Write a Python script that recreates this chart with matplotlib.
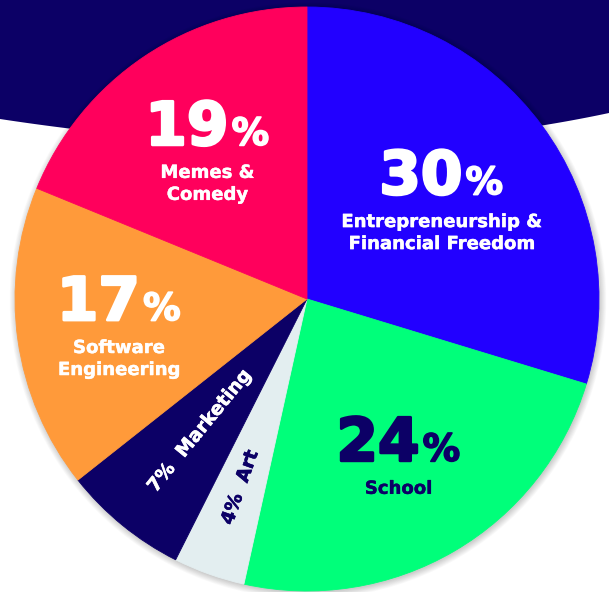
import numpy as np
import matplotlib
matplotlib.use("Agg")
import matplotlib.pyplot as plt
from matplotlib.patches import Polygon, Circle
import matplotlib.patheffects as pe

# Survey shares (percent) for each interest, drawn clockwise from 12 o'clock
categories = ["Entrepreneurship &\nFinancial Freedom", "School", "Art", "Marketing",
              "Software\nEngineering", "Memes &\nComedy"]
shares = [30, 24, 4, 7, 17, 19]

NAVY = "#0c0066"
colors = ["#2200ff", "#00ff7a", "#e3eef0", NAVY, "#ff9a3a", "#ff005c"]
text_colors = ["white", NAVY, NAVY, "white", "white", "white"]
rotated = [False, False, True, True, False, False]   # thin slices get one rotated line
label_dist = [0.572, 0.62, 0.685, 0.582, 0.651, 0.613]

W, H = 609, 592
fig = plt.figure(figsize=(W / 100, H / 100), dpi=100)
fig.patch.set_facecolor("white")
ax = fig.add_axes([0, 0, 1, 1])

CX, CY, R = 307, H - 299, 292

# Navy header band with a curved lower edge
band_x = [0, 65, 545, 609]
band_y = [119, 128, 125, 113]
coef = np.polyfit(band_x, band_y, 3)
xs = np.linspace(0, W, 300)
ys = H - np.polyval(coef, xs)
outline = np.column_stack([np.r_[0, xs, W], np.r_[H, ys, H]])
ax.add_patch(Polygon(outline, closed=True, facecolor=NAVY, edgecolor="none", zorder=0))

# Soft shadow under the pie
for i in range(10):
    ax.add_patch(Circle((CX + 1, CY - 1.5), R + 0.7 * i, facecolor="black",
                        edgecolor="none", alpha=0.02, zorder=1))

wedges, _ = ax.pie(shares, colors=colors, startangle=90, counterclock=False,
                   radius=R, center=(CX, CY),
                   wedgeprops=dict(linewidth=0.6))
for w, c in zip(wedges, colors):
    w.set_edgecolor(c)
    w.set_zorder(2)

ax.set_xlim(0, W)
ax.set_ylim(0, H)
ax.set_aspect("equal")
ax.axis("off")

FONT = "DejaVu Sans"
CAP = 44         # height of the big digits, px
FIRST_GAP = 33   # number baseline to first caption baseline
LINE_GAP = 22    # caption line spacing


def heavy(color, width):
    # thicken the bold face a little with an outline in the same colour
    return [pe.withStroke(linewidth=width, foreground=color)]


fig.canvas.draw()
renderer = fig.canvas.get_renderer()

for w, cat, val, tc, rot, d in zip(wedges, categories, shares, text_colors,
                                   rotated, label_dist):
    mid = np.deg2rad((w.theta1 + w.theta2) / 2)
    bx = CX + d * R * np.cos(mid)
    by = CY + d * R * np.sin(mid)
    if rot:
        ax.text(bx, by, f"{val}%  {cat}", rotation=np.degrees(mid) + 180,
                rotation_mode="anchor", ha="center", va="center",
                fontsize=13.5, fontweight="bold", family=FONT, color=tc, zorder=3,
                path_effects=heavy(tc, 0.4))
        continue
    lines = cat.split("\n")
    block = CAP + FIRST_GAP + LINE_GAP * (len(lines) - 1)
    base = by + block / 2 - CAP
    num = ax.text(0, base, str(val), fontsize=43, fontweight="bold", family=FONT,
                  color=tc, ha="left", va="baseline", zorder=3,
                  path_effects=heavy(tc, 2.0))
    pct = ax.text(0, base, "%", fontsize=27, fontweight="bold", family=FONT,
                  color=tc, ha="left", va="baseline", zorder=3,
                  path_effects=heavy(tc, 1.2))
    wn = num.get_window_extent(renderer).width
    wp = pct.get_window_extent(renderer).width
    gap = 3
    x0 = bx - (wn + gap + wp) / 2
    num.set_x(x0)
    pct.set_x(x0 + wn + gap)
    for j, line in enumerate(lines):
        ax.text(bx, base - FIRST_GAP - j * LINE_GAP, line, ha="center", va="baseline",
                fontsize=13, fontweight="bold", family=FONT, color=tc, zorder=3,
                path_effects=heavy(tc, 0.3))

fig.savefig("out.png", dpi=100, facecolor="white")
